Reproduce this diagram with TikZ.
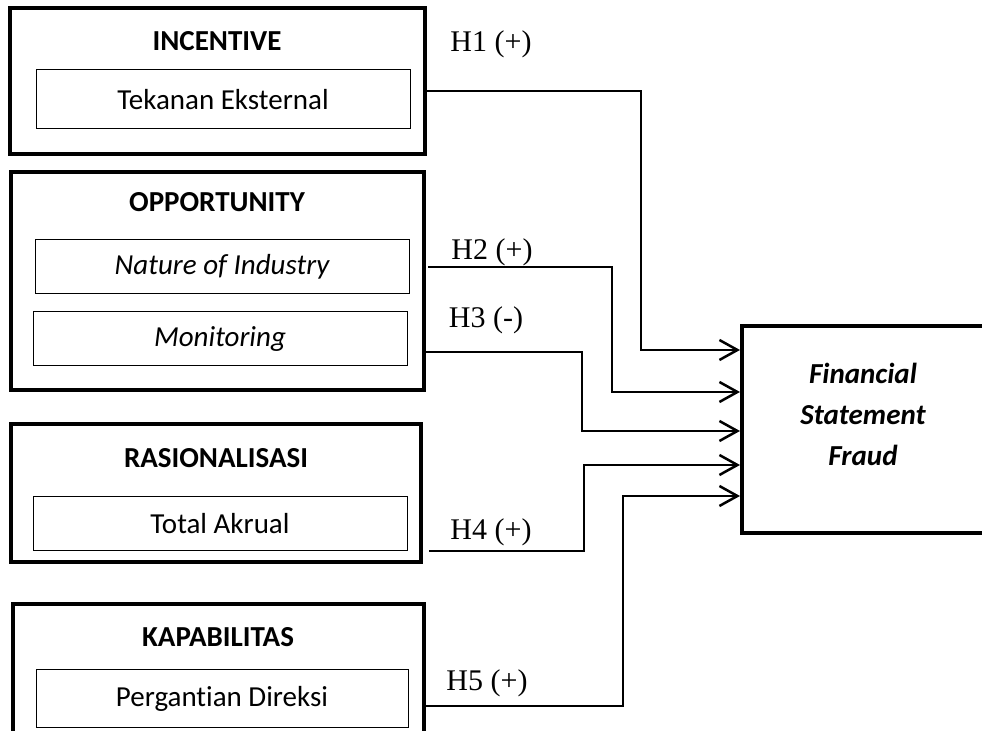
\documentclass[tikz,border=0pt]{standalone}
\usepackage{fontspec}
\setmainfont[Ligatures=NoCommon]{Carlito}
\newfontfamily\hypfont{Liberation Serif}
\usetikzlibrary{arrows.meta,positioning}
\newcommand\boxfont{\fontsize{14.5}{17.5}\selectfont}

\tikzset{
  outerbox/.style={draw, line width=1.8pt, inner sep=0pt},
  innerbox/.style={draw, line width=0.5pt, inner sep=0pt, font=\boxfont,
    minimum width=187pt, minimum height=27pt},
  ttl/.style={font=\boxfont\bfseries},
  hyp/.style={font=\hypfont\fontsize{15}{18}\selectfont},
  link/.style={line width=1.25pt, -{Straight Barb[length=9pt,width=10pt]}},
}

\begin{document}
\begin{tikzpicture}[x=0.5pt, y=-0.5pt]
\useasboundingbox (0,0) rectangle (982,731);

% left blocks
\node[outerbox, minimum width=207.5pt, minimum height=73pt] (inc) at (217.5,81) {};
\node[ttl] (inct) at (217,41) {INCENTIVE};
\node[innerbox, minimum height=29.5pt] (tek) at (223,99.5) {Tekanan Eksternal};

\node[outerbox, minimum width=206.5pt, minimum height=109pt] (opp) at (217.5,281) {};
\node[ttl] (oppt) at (217,202) {OPPORTUNITY};
\node[innerbox] (nat) at (222,267) {\itshape Nature of Industry};
\node[innerbox] (mon) at (220,339) {\itshape Monitoring};

\node[outerbox, minimum width=205pt, minimum height=69pt] (ras) at (216,493) {};
\node[ttl] (rast) at (216,458) {RASIONALISASI};
\node[innerbox] (tot) at (220,524) {Total Akrual};

\node[outerbox, minimum width=205.5pt, minimum height=68pt] (kap) at (218.5,672) {};
\node[ttl] (kapt) at (218,637) {KAPABILITAS};
\node[innerbox, minimum width=186pt, minimum height=29pt] (dir) at (222,699) {Pergantian Direksi};

% dependent variable
\node[draw, line width=2pt, minimum width=121.5pt, minimum height=103.5pt] (fin) at (863.5,429.5) {};
\node[font=\fontsize{14.5}{20.5}\selectfont\bfseries\itshape, align=center] (fint) at (863,414)
  {Financial\\Statement\\Fraud};

% hypotheses
\coordinate (s1) at (425,91);
\coordinate (s2) at (428,267);
\coordinate (s3) at (422,352);
\coordinate (s4) at (429,551);
\coordinate (s5) at (425,706);
\foreach \i/\bx/\ty in {1/641/350, 2/612/392, 3/582/431, 4/584/465, 5/623/496}
  \draw[link] (s\i) -| (\bx,\ty) -- (fin.west |- 0,\ty);

\node[hyp] (h1) at (491,44) {H1 (+)};
\node[hyp] (h2) at (492,252) {H2 (+)};
\node[hyp] (h3) at (486,320) {H3 (-)};
\node[hyp] (h4) at (491,532) {H4 (+)};
\node[hyp] (h5) at (487,683) {H5 (+)};
\end{tikzpicture}
\end{document}
